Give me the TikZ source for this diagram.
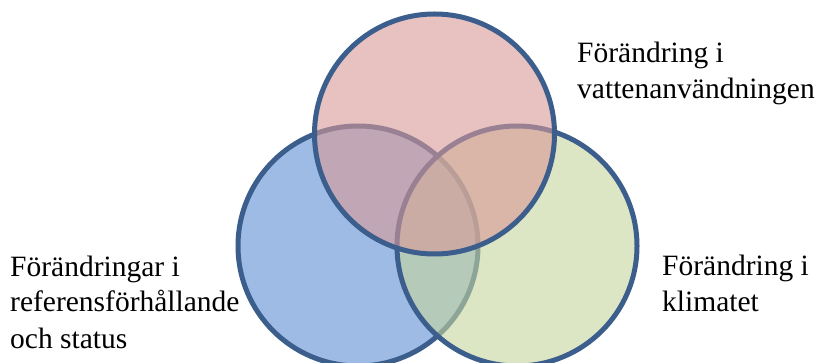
\documentclass[tikz,border=0pt]{standalone}
\usepackage{fontspec}
\setmainfont{Liberation Serif}
\definecolor{ring}{RGB}{59,94,140}
\definecolor{cblue}{RGB}{157,187,229}
\definecolor{cgreen}{RGB}{197,213,157}
\definecolor{cpink}{RGB}{217,152,152}
\begin{document}
\begin{tikzpicture}[x=1pt,y=-1pt,
  venn/.style={circle,draw=ring,line width=5pt,minimum size=240pt,inner sep=0pt},
  lbl/.style={anchor=base west,align=left,inner sep=0pt,font=\fontsize{29.5}{36}\selectfont}]
\fill[white] (0,0) rectangle (819,363);
\useasboundingbox (0,0) rectangle (819,363);
\clip (0,0) rectangle (819,363);
\node[venn,fill=cblue] (ref) at (358,246) {};
\node[venn,fill=cgreen,fill opacity=0.6,draw opacity=1] (klim) at (517,246) {};
\node[venn,fill=cpink,fill opacity=0.6,draw opacity=1] (vatten) at (434.5,134) {};
\node[lbl] (tvatten) at (577,99) {Förändring i\\vattenanvändningen};
\node[lbl] (tref) at (10,348) {Förändringar i\\referensförhållande\\och status};
\node[lbl] (tklim) at (662,312) {Förändring i\\klimatet};
\end{tikzpicture}
\end{document}
